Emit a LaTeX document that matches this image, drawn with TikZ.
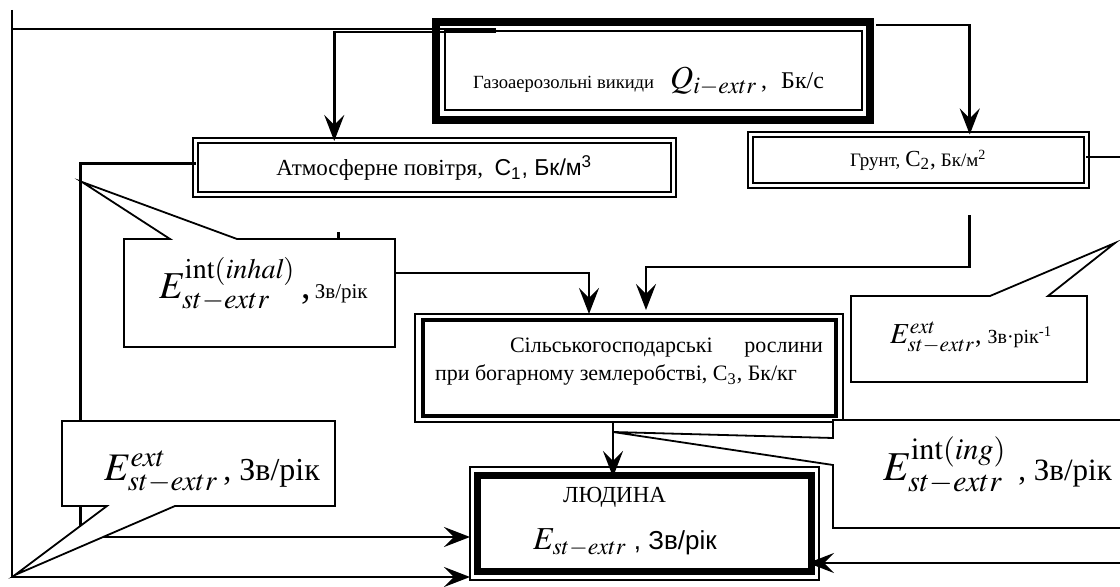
\documentclass[tikz,border=0pt]{standalone}
\usepackage{mathptmx}
\usepackage[no-math]{fontspec}
\setmainfont{Liberation Serif}
\setsansfont{Liberation Sans}
\usetikzlibrary{arrows.meta,calc}

\begin{document}
\begin{tikzpicture}[
  x=0.5pt, y=-0.5pt,
  >={Stealth[length=13pt,width=10pt,inset=5pt]},
  conn/.style={draw, line width=1.3pt},
  dbox/.style={draw, double, double distance=1.5pt, line width=1pt, inner sep=0pt, outer sep=0pt},
  tbox/.style={draw, line width=0.8pt, inner sep=0pt, outer sep=0pt},
  bubble/.style={draw, fill=white, line width=0.9pt},
  txt/.style={anchor=base west, inner sep=0pt, outer sep=0pt}
]
\useasboundingbox (0,0) rectangle (1120,587);
\clip (0,0) rectangle (1120,587);

% boxes
\node[tbox, line width=4pt, minimum width=217pt, minimum height=49pt] (emis) at (653,71) {};
\draw[line width=0.8pt] ($(emis.north west)+(9,9)$) rectangle ($(emis.south east)+(-8,-10)$);
\node[dbox, minimum width=238.75pt, minimum height=26.75pt, font=\fontsize{11.5pt}{13pt}\selectfont] (atm) at (434.25,167.75)
  {Атмосферне повітря,\ \ {\sffamily С\textsubscript{1}, Бк/м\textsuperscript{3}}};
\node[dbox, minimum width=167.75pt, minimum height=25.5pt] (soil) at (918.25,160)
  {{\fontsize{9.5pt}{11pt}\selectfont Грунт,} {\fontsize{11.5pt}{12pt}\selectfont С\textsubscript{2},} {\fontsize{9.5pt}{11pt}\selectfont Бк/м\textsuperscript{2}}};
\node[tbox, minimum width=214pt, minimum height=54pt] (plant) at (629,368) {};
\draw[line width=2pt] ($(plant.north west)+(8,6)$) rectangle ($(plant.south east)+(-7,-6)$);
\node[tbox, minimum width=174.5pt, minimum height=56.5pt] (human) at (644.5,523.5) {};
\draw[line width=3.5pt] ($(human.north west)+(7,9)$) rectangle ($(human.south east)+(-8,-8)$);

% free ends
\coordinate (ltop) at (12,10);
\coordinate (atmgap) at ($(atm.south)+(-96,38)$);
\coordinate (soilgap) at ($(soil.south)+(51,30)$);

% connectors
\draw[conn] ($(emis.north west)+(60,7)$) -| (ltop);
\draw[conn,->] (ltop) |- ($(human.south west)+(0,-3)$);
\draw[conn,->] ($(emis.north west)+(60,10)$) -| ($(atm.north)+(-100,0)$);
\draw[conn,->] ($(emis.north east)+(6,3)$) -| ($(soil.north)+(51.5,0)$);
\draw[conn,->] ($(atm.west)+(0,-4)$) -- ++(-115,0) |- ($(human.west)+(0,13.5)$);
\draw[conn,->] (atmgap) |- ($(plant.north)+(-40,-41)$) -- ($(plant.north)+(-40,0)$);
\draw[conn,->] (soilgap) |- ($(plant.north)+(17,-47)$) -- ($(plant.north)+(17,-4)$);
\draw[conn,->,shorten >=-5.5pt] ($(soil.east)+(0,-3)$) -- ++(44,0) |- ($(human.east)+(0,39.5)$);
\draw[conn,->,shorten >=-5pt] (plant.south) ++(-16,0) coordinate (pdrop) -- (pdrop |- human.north);

% callouts
\draw[bubble] (82,182) -- (170,239) -- (124,239) -- (124,347) -- (395,347) -- (395,239) -- (237,239) -- cycle;
\draw[bubble] (1115,243) -- (1048,296) -- (1087,296) -- (1087,382) -- (851,382) -- (851,296) -- (990,296) -- cycle;
\draw[bubble] (613,432) -- (833,438) -- (833,420) -- (1130,420) -- (1130,528) -- (833,528) -- (833,465) -- cycle;
\draw[bubble] (15,575) -- (107,506) -- (62,506) -- (62,421) -- (335,421) -- (335,506) -- (175,506) -- cycle;

% texts
\node[txt] (emistxt) at (473,89) {{\fontsize{9.3pt}{11pt}\selectfont Газоаерозольні викиди}\hspace{8pt}{\fontsize{16pt}{19pt}\selectfont $Q_{i-extr}$}{\fontsize{12pt}{14pt}\selectfont\,,}\hspace{7pt}{\fontsize{12pt}{14pt}\selectfont Бк/с}};
\node[txt] (planttxt) at (435,353) {\fontsize{11pt}{14pt}\selectfont\parbox[t]{194pt}{\hspace*{37.5pt}Сільськогосподарські\hfill рослини\\при богарному землеробстві, С\textsubscript{3}, Бк/кг}};
\node[txt] (humtitle) at (563,503) {\fontsize{11.5pt}{13pt}\selectfont ЛЮДИНА};
\node[txt] (humtxt) at (533,550) {{\fontsize{16pt}{19pt}\selectfont $E_{st-extr}$}{\fontsize{13pt}{15pt}\selectfont\sffamily\ , Зв/рік}};
\node[txt] (inhaltxt) at (159,299) {{\fontsize{19pt}{22pt}\selectfont $E^{\mathrm{int}(\mathit{inhal})}_{st-extr}$\hspace{3pt},}\hspace{2pt}{\fontsize{10.5pt}{12pt}\selectfont Зв/рік}};
\node[txt] (extLtxt) at (104,481) {{\fontsize{19.5pt}{22pt}\selectfont $E^{ext}_{st-extr}$}{\fontsize{16pt}{18pt}\selectfont\,, Зв/рік}};
\node[txt] (extRtxt) at (890,344) {{\fontsize{14.5pt}{17pt}\selectfont $E^{ext}_{st-extr}$}{\fontsize{13pt}{15pt}\selectfont,}\hspace{3pt}{\fontsize{10pt}{12pt}\selectfont Зв·рік\textsuperscript{-1}}};
\node[txt] (ingtxt) at (883,481) {{\fontsize{20.5pt}{24pt}\selectfont $E^{\mathrm{int}(\mathit{ing})}_{st-extr}$}\hspace{6pt}{\fontsize{15.5pt}{18pt}\selectfont , Зв/рік}};
\end{tikzpicture}
\end{document}
